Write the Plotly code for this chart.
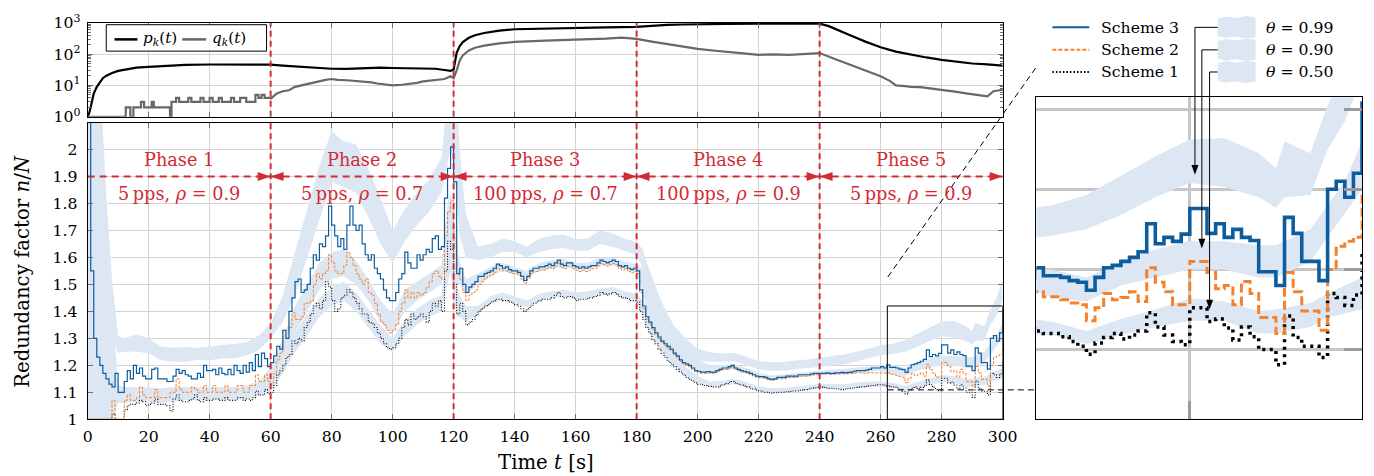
import plotly.graph_objects as go

# layout is designed on a 1374 x 476 pixel grid; the canvas is a touch larger
W, H = 1374, 476
FIG_W, FIG_H = 1388, 486
FONT = "DejaVu Serif"
RED = "#d22b36"
BLUE = "#0b5d9e"
ORANGE = "#f5822a"
BAND = "#dde7f4"
GRID = "#d4d4d4"

# ---------------------------------------------------------------- data
time_s = list(range(301))

scheme3 = [
    2.60, 1.55, 1.30, 1.23, 1.20, 1.17, 1.15, 1.13, 1.12, 1.17,
    1.10, 1.10, 1.14, 1.18, 1.15, 1.20, 1.17, 1.19, 1.16, 1.15,
    1.15, 1.185, 1.19, 1.15, 1.15, 1.15, 1.14, 1.14, 1.16, 1.185,
    1.17, 1.18, 1.165, 1.16, 1.15, 1.15, 1.17, 1.155, 1.20, 1.18,
    1.18, 1.185, 1.165, 1.19, 1.17, 1.165, 1.185, 1.165, 1.20, 1.18,
    1.17, 1.20, 1.175, 1.21, 1.18, 1.24, 1.195, 1.245, 1.225, 1.195,
    1.21, 1.235, 1.27, 1.26, 1.33, 1.30, 1.40, 1.45, 1.51, 1.52,
    1.47, 1.48, 1.50, 1.56, 1.61, 1.59, 1.65, 1.64, 1.68, 1.79,
    1.72, 1.68, 1.64, 1.67, 1.63, 1.72, 1.79, 1.72, 1.70, 1.72,
    1.65, 1.61, 1.59, 1.61, 1.56, 1.54, 1.52, 1.48, 1.45, 1.44,
    1.44, 1.47, 1.52, 1.54, 1.62, 1.58, 1.56, 1.56, 1.61, 1.59,
    1.61, 1.63, 1.62, 1.67, 1.68, 1.63, 1.64, 1.82, 1.93, 2.01,
    1.88, 1.54, 1.56, 1.50, 1.47, 1.49, 1.50, 1.51, 1.53, 1.53,
    1.54, 1.545, 1.55, 1.56, 1.575, 1.57, 1.56, 1.565, 1.555, 1.55,
    1.55, 1.545, 1.53, 1.515, 1.53, 1.55, 1.56, 1.56, 1.565, 1.565,
    1.57, 1.575, 1.57, 1.58, 1.59, 1.575, 1.57, 1.58, 1.58, 1.57,
    1.565, 1.56, 1.565, 1.56, 1.565, 1.57, 1.57, 1.58, 1.59, 1.585,
    1.58, 1.585, 1.59, 1.585, 1.57, 1.565, 1.57, 1.56, 1.555, 1.56,
    1.55, 1.48, 1.42, 1.38, 1.36, 1.34, 1.32, 1.305, 1.29, 1.28,
    1.27, 1.26, 1.245, 1.235, 1.22, 1.21, 1.205, 1.20, 1.19, 1.18,
    1.178, 1.175, 1.175, 1.177, 1.175, 1.175, 1.18, 1.185, 1.19, 1.19,
    1.195, 1.20, 1.19, 1.185, 1.18, 1.178, 1.175, 1.17, 1.165, 1.16,
    1.158, 1.158, 1.155, 1.15, 1.148, 1.15, 1.155, 1.155, 1.155, 1.16,
    1.16, 1.16, 1.16, 1.165, 1.165, 1.165, 1.165, 1.168, 1.17, 1.17,
    1.17, 1.17, 1.172, 1.17, 1.17, 1.172, 1.172, 1.174, 1.172, 1.174,
    1.175, 1.178, 1.18, 1.18, 1.18, 1.182, 1.185, 1.19, 1.19, 1.19,
    1.195, 1.19, 1.202, 1.192, 1.192, 1.19, 1.186, 1.184, 1.174, 1.19,
    1.202, 1.205, 1.21, 1.215, 1.222, 1.257, 1.232, 1.24, 1.235, 1.244,
    1.276, 1.276, 1.245, 1.257, 1.24, 1.25, 1.24, 1.236, 1.197, 1.197,
    1.18, 1.265, 1.245, 1.21, 1.21, 1.186, 1.30, 1.31, 1.29, 1.32,
    1.41,
]

scheme2 = [
    1.0, 1.0, 1.0, 1.0, 1.0, 1.0, 1.0, 1.0, 1.07, 1.0,
    1.0, 1.0, 1.07, 1.09, 1.07, 1.07, 1.08, 1.12, 1.09, 1.08,
    1.08, 1.08, 1.11, 1.08, 1.08, 1.08, 1.08, 1.10, 1.10, 1.15,
    1.11, 1.10, 1.10, 1.10, 1.12, 1.11, 1.10, 1.10, 1.125, 1.10,
    1.10, 1.125, 1.10, 1.10, 1.10, 1.125, 1.10, 1.10, 1.10, 1.125,
    1.125, 1.10, 1.10, 1.125, 1.125, 1.165, 1.14, 1.14, 1.165, 1.14,
    1.13, 1.17, 1.22, 1.245, 1.33, 1.33, 1.34, 1.395, 1.37, 1.37,
    1.38, 1.43, 1.43, 1.44, 1.50, 1.54, 1.52, 1.54, 1.55, 1.61,
    1.58, 1.55, 1.54, 1.54, 1.57, 1.62, 1.60, 1.57, 1.54, 1.52,
    1.50, 1.52, 1.47, 1.46, 1.43, 1.39, 1.36, 1.35, 1.33, 1.32,
    1.33, 1.35, 1.40, 1.43, 1.48, 1.45, 1.47, 1.45, 1.47, 1.46,
    1.47, 1.49, 1.51, 1.54, 1.55, 1.53, 1.52, 1.68, 1.77, 1.81,
    1.66, 1.54, 1.52, 1.47, 1.44, 1.46, 1.47, 1.48, 1.50, 1.51,
    1.52, 1.53, 1.535, 1.545, 1.56, 1.555, 1.55, 1.55, 1.545, 1.54,
    1.54, 1.535, 1.52, 1.505, 1.52, 1.54, 1.548, 1.548, 1.553, 1.553,
    1.558, 1.563, 1.558, 1.568, 1.578, 1.563, 1.558, 1.568, 1.568, 1.558,
    1.553, 1.548, 1.553, 1.548, 1.553, 1.558, 1.558, 1.568, 1.578, 1.573,
    1.568, 1.573, 1.578, 1.573, 1.558, 1.553, 1.558, 1.548, 1.543, 1.548,
    1.54, 1.47, 1.41, 1.372, 1.352, 1.333, 1.313, 1.298, 1.284, 1.274,
    1.264, 1.254, 1.24, 1.23, 1.215, 1.205, 1.20, 1.195, 1.185, 1.176,
    1.173, 1.17, 1.17, 1.172, 1.17, 1.17, 1.175, 1.18, 1.185, 1.185,
    1.19, 1.194, 1.186, 1.18, 1.175, 1.173, 1.17, 1.165, 1.16, 1.155,
    1.153, 1.153, 1.15, 1.146, 1.144, 1.146, 1.15, 1.15, 1.15, 1.155,
    1.155, 1.155, 1.156, 1.16, 1.16, 1.16, 1.161, 1.164, 1.166, 1.166,
    1.168, 1.168, 1.168, 1.167, 1.167, 1.168, 1.168, 1.169, 1.168, 1.169,
    1.17, 1.171, 1.172, 1.172, 1.171, 1.172, 1.173, 1.172, 1.171, 1.172,
    1.172, 1.171, 1.172, 1.166, 1.166, 1.162, 1.158, 1.156, 1.136, 1.152,
    1.17, 1.162, 1.165, 1.172, 1.16, 1.202, 1.184, 1.172, 1.156, 1.156,
    1.21, 1.21, 1.196, 1.176, 1.18, 1.156, 1.185, 1.17, 1.14, 1.14,
    1.12, 1.196, 1.172, 1.148, 1.148, 1.124, 1.20, 1.229, 1.235, 1.24,
    1.30,
]

scheme1 = [
    1.0, 1.0, 1.0, 1.0, 1.0, 1.0, 1.0, 1.0, 1.02, 1.0,
    1.0, 1.0, 1.035, 1.05, 1.055, 1.055, 1.06, 1.07, 1.065, 1.05,
    1.055, 1.06, 1.075, 1.055, 1.055, 1.055, 1.05, 1.03, 1.075, 1.09,
    1.07, 1.065, 1.065, 1.07, 1.075, 1.09, 1.07, 1.065, 1.08, 1.07,
    1.07, 1.075, 1.075, 1.07, 1.07, 1.08, 1.07, 1.07, 1.07, 1.08,
    1.08, 1.07, 1.075, 1.07, 1.08, 1.105, 1.09, 1.09, 1.11, 1.095,
    1.10, 1.125, 1.165, 1.18, 1.20, 1.23, 1.24, 1.29, 1.28, 1.30,
    1.29, 1.34, 1.36, 1.39, 1.42, 1.43, 1.41, 1.44, 1.51, 1.49,
    1.44, 1.40, 1.41, 1.45, 1.46, 1.48, 1.47, 1.45, 1.43, 1.41,
    1.39, 1.39, 1.36, 1.355, 1.34, 1.32, 1.30, 1.28, 1.265, 1.26,
    1.265, 1.28, 1.30, 1.34, 1.37, 1.35, 1.39, 1.37, 1.38, 1.39,
    1.38, 1.36, 1.40, 1.43, 1.42, 1.44, 1.40, 1.55, 1.66, 1.63,
    1.50, 1.39, 1.43, 1.40, 1.35, 1.36, 1.37, 1.385, 1.40, 1.41,
    1.42, 1.425, 1.435, 1.44, 1.445, 1.445, 1.44, 1.44, 1.435, 1.43,
    1.425, 1.42, 1.41, 1.40, 1.41, 1.42, 1.43, 1.435, 1.44, 1.445,
    1.445, 1.445, 1.45, 1.46, 1.47, 1.455, 1.45, 1.455, 1.455, 1.45,
    1.44, 1.445, 1.445, 1.445, 1.45, 1.45, 1.455, 1.46, 1.47, 1.465,
    1.46, 1.465, 1.47, 1.465, 1.455, 1.45, 1.45, 1.445, 1.44, 1.44,
    1.435, 1.40, 1.37, 1.34, 1.32, 1.295, 1.28, 1.26, 1.245, 1.23,
    1.215, 1.205, 1.195, 1.185, 1.175, 1.165, 1.155, 1.148, 1.142, 1.135,
    1.13, 1.128, 1.125, 1.122, 1.122, 1.12, 1.12, 1.123, 1.128, 1.132,
    1.137, 1.14, 1.135, 1.13, 1.127, 1.123, 1.12, 1.115, 1.112, 1.108,
    1.105, 1.102, 1.10, 1.098, 1.097, 1.098, 1.10, 1.10, 1.10, 1.102,
    1.103, 1.105, 1.105, 1.107, 1.108, 1.11, 1.112, 1.115, 1.117, 1.118,
    1.12, 1.118, 1.116, 1.115, 1.113, 1.112, 1.112, 1.11, 1.112, 1.113,
    1.115, 1.117, 1.118, 1.12, 1.12, 1.122, 1.124, 1.125, 1.126, 1.128,
    1.128, 1.126, 1.123, 1.12, 1.12, 1.116, 1.11, 1.104, 1.094, 1.108,
    1.115, 1.12, 1.113, 1.118, 1.123, 1.146, 1.128, 1.118, 1.11, 1.106,
    1.152, 1.152, 1.135, 1.138, 1.127, 1.112, 1.128, 1.116, 1.10, 1.10,
    1.081, 1.142, 1.115, 1.104, 1.104, 1.09, 1.17, 1.165, 1.155, 1.168,
    1.22,
]

# quantile envelopes (theta = 0.99 / 0.90 / 0.50)
band_t = [
    0, 1, 2, 3, 4, 6, 8, 10, 12,
    16, 20, 24, 28, 32, 36, 40, 44, 48, 52, 56,
    60, 64, 68, 72, 76, 80, 84, 88, 92, 96, 100, 104, 108, 112, 116,
    118, 119, 120, 121, 122, 124,
    128, 132, 136, 140, 144, 148, 152, 156, 160, 164, 168, 172, 176, 180,
    182, 184, 186, 188,
    192, 196, 200, 204, 208, 212, 216, 220, 224, 228, 232, 236, 240, 244, 248,
    252, 256, 260, 264, 268, 272, 276, 280, 284, 288,
    290, 291, 294, 296, 298, 300,
]
q99_lo = [
    1.30, 1.40, 1.50, 1.55, 1.55, 1.45, 1.30, 1.245, 1.25,
    1.25, 1.245, 1.22, 1.213, 1.213, 1.22, 1.219, 1.225, 1.225, 1.235, 1.256,
    1.30, 1.36, 1.46, 1.60, 1.74, 1.88, 1.86, 1.84, 1.75, 1.65, 1.58, 1.66, 1.72, 1.77, 1.84,
    1.95, 2.00, 1.95, 1.80, 1.68, 1.60,
    1.59, 1.60, 1.62, 1.62, 1.60, 1.62, 1.63, 1.635, 1.625, 1.625, 1.65, 1.64, 1.625, 1.61,
    1.56, 1.48, 1.43, 1.37,
    1.30, 1.255, 1.22, 1.213, 1.213, 1.215, 1.20, 1.185, 1.18, 1.18, 1.185, 1.19, 1.193, 1.198, 1.203,
    1.214, 1.225, 1.237, 1.242, 1.25, 1.268, 1.29, 1.308, 1.303, 1.29,
    1.277, 1.29, 1.293, 1.35, 1.385, 1.44,
]
q99_hi = [
    3.0, 3.0, 3.0, 2.7, 2.3, 1.85, 1.52, 1.31, 1.30,
    1.315, 1.30, 1.27, 1.265, 1.268, 1.265, 1.27, 1.275, 1.28, 1.285, 1.31,
    1.355, 1.46, 1.62, 1.78, 1.94, 2.07, 2.03, 2.02, 1.93, 1.82, 1.70, 1.78, 1.84, 1.89, 1.97,
    2.20, 2.30, 2.30, 2.20, 2.00, 1.76,
    1.64, 1.65, 1.67, 1.66, 1.64, 1.67, 1.68, 1.685, 1.668, 1.67, 1.70, 1.69, 1.67, 1.656,
    1.63, 1.56, 1.50, 1.44,
    1.35, 1.30, 1.262, 1.248, 1.244, 1.246, 1.232, 1.215, 1.212, 1.212, 1.218, 1.222, 1.229, 1.234, 1.240,
    1.25, 1.262, 1.274, 1.28, 1.293, 1.317, 1.341, 1.362, 1.364, 1.345,
    1.326, 1.36, 1.345, 1.405, 1.45, 1.52,
]
q90_lo = [
    1.0, 1.0, 1.0, 1.0, 1.0, 1.0, 1.02, 1.085, 1.085,
    1.09, 1.085, 1.085, 1.09, 1.09, 1.09, 1.09, 1.09, 1.09, 1.095, 1.105,
    1.13, 1.22, 1.32, 1.40, 1.48, 1.52, 1.53, 1.50, 1.44, 1.36, 1.32, 1.40, 1.44, 1.47, 1.50,
    1.60, 1.65, 1.55, 1.50, 1.50, 1.46,
    1.50, 1.53, 1.55, 1.54, 1.52, 1.55, 1.56, 1.565, 1.555, 1.555, 1.57, 1.57, 1.555, 1.545,
    1.47, 1.37, 1.33, 1.29,
    1.245, 1.205, 1.178, 1.17, 1.18, 1.185, 1.17, 1.155, 1.145, 1.15, 1.155, 1.16, 1.163, 1.165, 1.168,
    1.172, 1.176, 1.18, 1.165, 1.16, 1.18, 1.19, 1.20, 1.20, 1.19,
    1.19, 1.195, 1.21, 1.24, 1.27, 1.30,
]
q90_hi = [
    2.8, 2.8, 2.6, 2.4, 2.2, 1.8, 1.45, 1.125, 1.12,
    1.12, 1.118, 1.115, 1.12, 1.12, 1.12, 1.12, 1.12, 1.12, 1.125, 1.14,
    1.19, 1.30, 1.42, 1.50, 1.58, 1.62, 1.63, 1.59, 1.52, 1.44, 1.39, 1.48, 1.51, 1.54, 1.57,
    1.80, 1.85, 1.75, 1.65, 1.58, 1.52,
    1.54, 1.565, 1.58, 1.565, 1.55, 1.58, 1.59, 1.595, 1.58, 1.58, 1.60, 1.60, 1.585, 1.575,
    1.56, 1.50, 1.45, 1.40,
    1.32, 1.27, 1.225, 1.20, 1.20, 1.205, 1.19, 1.172, 1.162, 1.167, 1.172, 1.177, 1.18, 1.183, 1.187,
    1.192, 1.197, 1.20, 1.20, 1.19, 1.21, 1.225, 1.235, 1.235, 1.23,
    1.23, 1.235, 1.25, 1.28, 1.31, 1.36,
]
q50_lo = [
    1.0, 1.0, 1.0, 1.0, 1.0, 1.0, 1.0, 1.06, 1.06,
    1.065, 1.065, 1.06, 1.065, 1.07, 1.07, 1.07, 1.072, 1.072, 1.075, 1.085,
    1.10, 1.17, 1.25, 1.31, 1.38, 1.42, 1.44, 1.40, 1.34, 1.28, 1.25, 1.31, 1.35, 1.38, 1.40,
    1.50, 1.55, 1.45, 1.38, 1.38, 1.36,
    1.39, 1.43, 1.44, 1.43, 1.415, 1.44, 1.45, 1.455, 1.445, 1.45, 1.46, 1.465, 1.45, 1.44,
    1.38, 1.32, 1.285, 1.255,
    1.20, 1.16, 1.135, 1.12, 1.125, 1.13, 1.12, 1.105, 1.098, 1.10, 1.104, 1.108, 1.115, 1.113, 1.112,
    1.117, 1.12, 1.12, 1.118, 1.107, 1.118, 1.128, 1.136, 1.136, 1.12,
    1.12, 1.122, 1.128, 1.14, 1.145, 1.15,
]
q50_hi = [
    2.6, 2.6, 2.4, 2.2, 2.0, 1.7, 1.42, 1.095, 1.09,
    1.095, 1.095, 1.09, 1.095, 1.10, 1.10, 1.10, 1.10, 1.10, 1.105, 1.115,
    1.145, 1.24, 1.32, 1.39, 1.45, 1.49, 1.51, 1.47, 1.41, 1.35, 1.30, 1.37, 1.41, 1.44, 1.46,
    1.62, 1.68, 1.60, 1.50, 1.46, 1.42,
    1.42, 1.455, 1.47, 1.455, 1.44, 1.465, 1.475, 1.48, 1.47, 1.475, 1.485, 1.49, 1.475, 1.465,
    1.44, 1.40, 1.35, 1.31,
    1.245, 1.195, 1.16, 1.14, 1.143, 1.15, 1.138, 1.122, 1.115, 1.117, 1.12, 1.125, 1.132, 1.13, 1.13,
    1.135, 1.14, 1.14, 1.135, 1.123, 1.138, 1.15, 1.164, 1.16, 1.148,
    1.15, 1.152, 1.158, 1.17, 1.18, 1.19,
]

# upper panel: p_k(t) and q_k(t)
pk_t = [0, 0.5, 1, 1.5, 2, 3, 4, 5, 6, 8, 10, 13, 16, 20, 26, 32, 40, 50, 60, 64,
        68, 72, 76, 80, 85, 90, 96, 100, 105, 110, 114, 117, 119, 120, 120.5, 121, 122, 123, 125, 127,
        130, 135, 140, 150, 160, 170, 180, 185, 190, 195, 200, 210, 220, 230, 240, 243, 246, 250, 255, 260,
        265, 270, 275, 280, 285, 290, 295, 300]
pk_v = [1.0, 1.3, 2.0, 3.5, 5.5, 9.0, 13, 17, 20, 25, 29, 33, 37, 39, 43, 45, 46.5, 47, 46, 43,
        40, 38, 36, 34, 33.5, 35, 37, 36, 35, 35.5, 34, 31, 29, 32, 60, 110, 180, 240, 330, 400,
        470, 560, 620, 660, 690, 710, 740, 800, 850, 880, 900, 920, 930, 935, 935, 780, 600, 400, 250, 165,
        120, 95, 78, 65, 56, 50, 47, 43]
qk_early_t = [0, 12.5, 14, 15, 17.5, 18.5, 21, 21.7, 27, 27.5, 29, 30, 33, 34, 37, 38, 40, 41, 43, 44,
              47, 48, 50, 52, 55, 56, 57, 58, 60]
qk_early_v = [1, 2, 1, 2, 3, 2, 3, 2, 1, 3, 4, 3, 4, 3, 4, 3, 4, 3, 4, 3,
              4, 3, 4, 3, 5, 4, 5, 4, 3.7]
qk_t = [60, 62, 64, 66, 68, 70, 72, 75, 78, 80, 82, 85, 88, 90, 93, 95, 98, 100, 103, 105,
        108, 110, 113, 115, 117, 119, 120, 121, 122, 123, 125, 127, 130, 135, 140, 150, 160, 165, 170, 175,
        180, 185, 190, 195, 200, 205, 210, 215, 220, 225, 230, 235, 240, 245, 250, 255, 260, 263, 265, 268,
        270, 273, 275, 278, 280, 283, 285, 288, 290, 293, 295, 297, 299, 300]
qk_v = [3.7, 5.5, 6.5, 7, 9, 10, 11, 13.5, 15, 16, 15, 14.6, 14, 13.6, 12.5, 11.5, 10.5, 10, 10.5, 11,
        12, 13.5, 14.5, 15, 16, 19.5, 17, 30, 63, 90, 130, 160, 186, 220, 245, 270, 285, 290, 310, 335,
        305, 250, 210, 175, 146, 130, 120, 105, 95, 98, 95, 100, 108, 70, 45, 30, 19.5, 14, 10, 9.5,
        9, 8.8, 8.3, 8, 7.5, 6.8, 6.2, 5.6, 5.3, 4.8, 4.5, 6.5, 7, 7.8]

phase_edges = [0, 60, 120, 180, 240, 300]
phase_rate = ["5", "5", "100", "100", "5"]
phase_rho = ["0.9", "0.7", "0.7", "0.9", "0.9"]

y_ticks = [1.0, 1.1, 1.2, 1.3, 1.4, 1.5, 1.6, 1.7, 1.8, 1.9, 2.0]
y_tick_text = ["1", "1.1", "1.2", "1.3", "1.4", "1.5", "1.6", "1.7", "1.8", "1.9", "2"]

zoom_t = [262.2, 300.0]
zoom_r = [1.013, 1.415]

theta_names = ["0.99", "0.90", "0.50"]
theta_tips = [(280.6, 1.318), (281.4, 1.226), (282.3, 1.150)]

for seq in (scheme3, scheme2, scheme1):
    assert len(seq) == len(time_s)
for seq in (q99_lo, q99_hi, q90_lo, q90_hi, q50_lo, q50_hi):
    assert len(seq) == len(band_t), len(seq)
assert len(pk_t) == len(pk_v) and len(qk_t) == len(qk_v) and len(qk_early_t) == len(qk_early_v)

# ---------------------------------------------------------------- geometry (grid pixels)
PL, PR = 83, 1002
TOP_T, TOP_B = 12, 108
MAIN_T, MAIN_B = 114, 417
INS_L, INS_R, INS_T, INS_B = 1036, 1363, 88, 417


def fx(px):
    return px / W


def fy(py):
    return 1 - py / H


fig = go.Figure()


def add_series(xa, ya, inset):
    for lo, hi in ((q99_lo, q99_hi), (q90_lo, q90_hi), (q50_lo, q50_hi)):
        fig.add_trace(go.Scatter(x=band_t, y=lo, xaxis=xa, yaxis=ya, mode="lines",
                                 line=dict(width=0, color=BAND), hoverinfo="skip"))
        fig.add_trace(go.Scatter(x=band_t, y=hi, xaxis=xa, yaxis=ya, mode="lines",
                                 line=dict(width=0, color=BAND), fill="tonexty",
                                 fillcolor=BAND, hoverinfo="skip"))
    styles = [
        (scheme1, "black", 3.5 if inset else 1.1, "3px,4.5px" if inset else "1px,1.6px"),
        (scheme2, ORANGE, 3.0 if inset else 1.0, "9px,4px" if inset else "3px,1.5px"),
        (scheme3, BLUE, 3.6 if inset else 1.2, "solid"),
    ]
    for ys, col, lw, dash in styles:
        fig.add_trace(go.Scatter(x=time_s, y=ys, xaxis=xa, yaxis=ya, mode="lines",
                                 line=dict(color=col, width=lw, dash=dash, shape="hv"),
                                 hoverinfo="skip"))


add_series("x", "y", False)
add_series("x3", "y3", True)

# upper panel
fig.add_trace(go.Scatter(x=pk_t, y=pk_v, xaxis="x2", yaxis="y2", mode="lines",
                         line=dict(color="black", width=2.2)))
fig.add_trace(go.Scatter(x=qk_early_t, y=qk_early_v, xaxis="x2", yaxis="y2", mode="lines",
                         line=dict(color="#686868", width=2.2, shape="hv")))
fig.add_trace(go.Scatter(x=qk_t, y=qk_v, xaxis="x2", yaxis="y2", mode="lines",
                         line=dict(color="#686868", width=2.2)))
for b in phase_edges[1:-1]:
    fig.add_trace(go.Scatter(x=[b, b], y=[1, 1000], xaxis="x2", yaxis="y2", mode="lines",
                             line=dict(color=RED, width=2, dash="6px,4px")))

shapes = []
annotations = []

# phase boundaries and arrows in the main panel
px_per_s = (PR - PL) / 300.0
unit_per_py = 1.1 / (MAIN_B - MAIN_T)
head_len = 13 / px_per_s
head_half = 4.6 * unit_per_py
arrow_y = 1.9
for b in phase_edges[1:-1]:
    shapes.append(dict(type="line", xref="x", yref="y", x0=b, x1=b, y0=1.0, y1=2.1,
                       line=dict(color=RED, width=2, dash="6px,4px"), layer="above"))
for i in range(len(phase_edges) - 1):
    a, b = phase_edges[i], phase_edges[i + 1]
    shapes.append(dict(type="line", xref="x", yref="y", x0=a, x1=b, y0=arrow_y, y1=arrow_y,
                       line=dict(color=RED, width=2, dash="7px,5px"), layer="above"))
    shapes.append(dict(type="path", xref="x", yref="y", layer="above",
                       path=f"M {b},{arrow_y} L {b - head_len},{arrow_y + head_half} "
                            f"L {b - head_len},{arrow_y - head_half} Z",
                       fillcolor=RED, line=dict(width=0)))
    if i > 0:
        shapes.append(dict(type="path", xref="x", yref="y", layer="above",
                           path=f"M {a},{arrow_y} L {a + head_len},{arrow_y + head_half} "
                                f"L {a + head_len},{arrow_y - head_half} Z",
                           fillcolor=RED, line=dict(width=0)))
    mid = (a + b) / 2
    annotations.append(dict(x=mid, y=1.96, xref="x", yref="y", showarrow=False,
                            text=f"Phase {i + 1}", font=dict(family=FONT, size=17.7, color=RED)))
    annotations.append(dict(x=mid, y=1.836, xref="x", yref="y", showarrow=False,
                            text=f"{phase_rate[i]}\u2009pps, <i>ρ</i> = {phase_rho[i]}",
                            font=dict(family=FONT, size=17.7, color=RED)))

# magnified region marker and connectors
shapes.append(dict(type="rect", xref="x", yref="y", x0=zoom_t[0], x1=300, y0=1.0, y1=1.42,
                   line=dict(color="black", width=1), layer="above"))
shapes.append(dict(type="line", xref="paper", yref="paper", x0=fx(886.7), y0=fy(271.7),
                   x1=fx(1036), y1=fy(57), line=dict(color="black", width=1, dash="6px,4px")))
shapes.append(dict(type="line", xref="paper", yref="paper", x0=fx(886.7), y0=fy(387),
                   x1=fx(INS_L), y1=fy(387), line=dict(color="black", width=1, dash="6px,4px")))

# upper-panel legend
shapes.append(dict(type="rect", xref="paper", yref="paper", x0=fx(101.7), x1=fx(262.7),
                   y0=fy(41), y1=fy(14), line=dict(color="black", width=1), fillcolor="white"))
leg_y = 29
shapes.append(dict(type="line", xref="paper", yref="paper", x0=fx(110), x1=fx(133),
                   y0=fy(leg_y), y1=fy(leg_y), line=dict(color="black", width=2.5)))
shapes.append(dict(type="line", xref="paper", yref="paper", x0=fx(178), x1=fx(202),
                   y0=fy(leg_y), y1=fy(leg_y), line=dict(color="#686868", width=2.5)))
annotations.append(dict(x=fx(137), y=fy(leg_y), xref="paper", yref="paper", showarrow=False,
                        xanchor="left", yanchor="middle",
                        text="<i>p</i><sub><i>k</i></sub>(<i>t</i>)",
                        font=dict(family=FONT, size=15.2, color="black")))
annotations.append(dict(x=fx(206), y=fy(leg_y), xref="paper", yref="paper", showarrow=False,
                        xanchor="left", yanchor="middle",
                        text="<i>q</i><sub><i>k</i></sub>(<i>t</i>)",
                        font=dict(family=FONT, size=15.2, color="black")))

# right-hand legend
rows_y = [16.7, 39.7, 62.3]
scheme_keys = [("Scheme 3", BLUE, "solid"), ("Scheme 2", ORANGE, "4px,2px"),
               ("Scheme 1", "black", "1.5px,2px")]
for (label, col, dash), ry in zip(scheme_keys, rows_y):
    shapes.append(dict(type="line", xref="paper", yref="paper", x0=fx(1052), x1=fx(1089),
                       y0=fy(ry), y1=fy(ry), line=dict(color=col, width=2, dash=dash)))
    annotations.append(dict(x=fx(1099), y=fy(ry), xref="paper", yref="paper", showarrow=False,
                            xanchor="left", yanchor="middle", text=label,
                            font=dict(family=FONT, size=15.7, color="black")))


def swatch_path(x0, x1, y0, y1):
    top = [(x0, y0 + 2), (x0 + 9, y0), (x0 + 19, y0 + 1.5), (x0 + 29, y0 - 0.5), (x1, y0 + 1)]
    bot = [(x1, y1), (x1 - 10, y1 + 1.5), (x1 - 20, y1 - 0.5), (x1 - 30, y1 + 1), (x0, y1 - 1)]
    return "M " + " L ".join(f"{fx(a):.5f},{fy(c):.5f}" for a, c in top + bot) + " Z"


def inset_px(t, v):
    px = INS_L + (t - zoom_t[0]) / (zoom_t[1] - zoom_t[0]) * (INS_R - INS_L)
    py = INS_B - (v - zoom_r[0]) / (zoom_r[1] - zoom_r[0]) * (INS_B - INS_T)
    return px, py


for name, (tt, vv), ry in zip(theta_names, theta_tips, rows_y):
    shapes.append(dict(type="path", xref="paper", yref="paper",
                       path=swatch_path(1218, 1256, ry - 11, ry + 10),
                       fillcolor=BAND, line=dict(width=0)))
    annotations.append(dict(x=fx(1265), y=fy(ry), xref="paper", yref="paper", showarrow=False,
                            xanchor="left", yanchor="middle", text=f"<i>θ</i> = {name}",
                            font=dict(family=FONT, size=15.7, color="black")))
    tip_px, tip_py = inset_px(tt, vv)
    # elbow connector: swatch -> down into the magnified view, ending in a small head
    shapes.append(dict(type="path", xref="paper", yref="paper",
                       path=(f"M {fx(1218):.5f},{fy(ry):.5f} L {fx(tip_px):.5f},{fy(ry):.5f} "
                             f"L {fx(tip_px):.5f},{fy(tip_py - 8):.5f}"),
                       line=dict(color="black", width=1)))
    shapes.append(dict(type="path", xref="paper", yref="paper",
                       path=(f"M {fx(tip_px):.5f},{fy(tip_py):.5f} "
                             f"L {fx(tip_px - 3.5):.5f},{fy(tip_py - 10):.5f} "
                             f"L {fx(tip_px + 3.5):.5f},{fy(tip_py - 10):.5f} Z"),
                       fillcolor="black", line=dict(width=0)))

# axis titles
annotations.append(dict(x=fx(18), y=fy((MAIN_T + MAIN_B) / 2), xref="paper", yref="paper",
                        showarrow=False, textangle=-90, xanchor="center", yanchor="middle",
                        text="Redundancy factor <i>n</i>/<i>N</i>",
                        font=dict(family=FONT, size=19.7, color="black")))
annotations.append(dict(x=fx(543), y=fy(461), xref="paper", yref="paper", showarrow=False,
                        xanchor="center", yanchor="middle", text="Time <i>t</i> [s]",
                        font=dict(family=FONT, size=19.7, color="black")))

tick_font = dict(family=FONT, size=15.7, color="black")
common = dict(showline=True, linecolor="black", linewidth=1, mirror="allticks",
              ticks="inside", ticklen=5, tickcolor="#6e6e6e", tickwidth=1,
              showgrid=True, gridcolor=GRID, gridwidth=1, zeroline=False, tickfont=tick_font)

minor_vals = [m * 10 ** e for e in range(3) for m in range(2, 10)]

fig.update_layout(
    width=FIG_W, height=FIG_H, autosize=False, margin=dict(l=0, r=0, t=0, b=0, pad=0),
    paper_bgcolor="white", plot_bgcolor="white", showlegend=False,
    font=dict(family=FONT, color="black"),
    xaxis=dict(domain=[fx(PL), fx(PR)], range=[0, 300], anchor="y",
               tickvals=list(range(0, 301, 20)), ticklabelstandoff=3, **common),
    yaxis=dict(domain=[fy(MAIN_B), fy(MAIN_T)], range=[1.0, 2.1], anchor="x",
               tickvals=y_ticks, ticktext=y_tick_text, ticklabelstandoff=6, **common),
    xaxis2=dict(domain=[fx(PL), fx(PR)], range=[0, 300], anchor="y2",
                tickvals=list(range(0, 301, 20)), showticklabels=False, **common),
    yaxis2=dict(domain=[fy(TOP_B), fy(TOP_T)], type="log", range=[0, 3], anchor="x2",
                tickvals=[1, 10, 100, 1000], ticklabelstandoff=3,
                ticktext=["10<sup>0</sup>", "10<sup>1</sup>", "10<sup>2</sup>", "10<sup>3</sup>"],
                minor=dict(tickvals=minor_vals, ticks="inside", ticklen=3, tickcolor="#6e6e6e",
                           showgrid=False),
                **common),
    xaxis3=dict(domain=[fx(INS_L), fx(INS_R)], range=zoom_t, anchor="y3",
                tickvals=[280], showticklabels=False, ticks="inside", ticklen=18, tickwidth=3,
                tickcolor="#9a9a9a", showgrid=True, gridcolor="#c6c6c6", gridwidth=3,
                showline=True, linecolor="black", linewidth=1.2, mirror=True, zeroline=False),
    yaxis3=dict(domain=[fy(INS_B), fy(INS_T)], range=zoom_r, anchor="x3", side="right",
                tickvals=[1.1, 1.2, 1.3, 1.4], showticklabels=False, ticks="inside", ticklen=18,
                tickwidth=3, tickcolor="#9a9a9a", showgrid=True, gridcolor="#c6c6c6", gridwidth=3,
                showline=True, linecolor="black", linewidth=1.2, mirror=True, zeroline=False),
    shapes=shapes,
    annotations=annotations,
)

fig.write_html("out.html")
